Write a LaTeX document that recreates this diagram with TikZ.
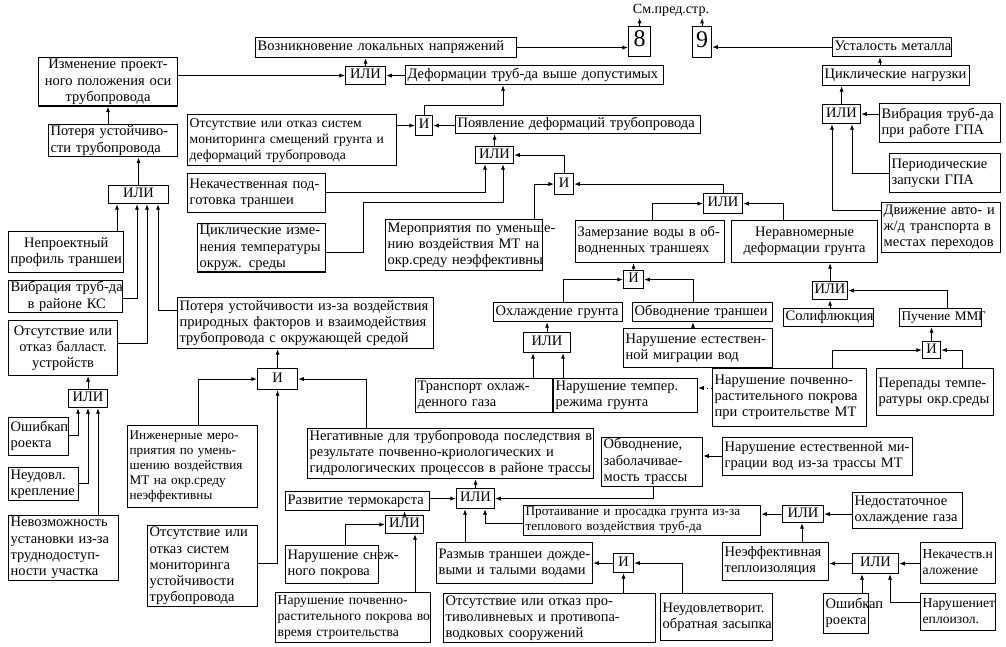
\documentclass[tikz,border=0pt]{standalone}
\usepackage{fontspec}
\setmainfont{Liberation Serif}
\usetikzlibrary{arrows.meta}
\tikzset{
  box/.style={draw, line width=0.8pt, inner xsep=1.5pt, inner ysep=0pt, font=\fontsize{10.3}{11.5}\selectfont},
  gate/.style={align=center},
  big/.style={align=center, font=\fontsize{17}{18}\selectfont},
  small/.style={font=\fontsize{9.4}{10.5}\selectfont},
  tight/.style={font=\fontsize{9.7}{11.5}\selectfont},
  arr/.style={line width=0.7pt, -{Latex[length=4pt,width=3pt]}},
  dots/.style={arr, dotted},
}
% box from corner (x1,y1) to corner (x2,y2), in pixels of the picture
\newcommand\bx[8][]{%
  \pgfmathsetmacro\bxw{(#5-#3)*0.7113-3}%
  \pgfmathsetmacro\bxh{(#6-#4)*0.7113}%
  \node[box,align=left,#1,anchor=north west,text width=\bxw pt,minimum height=\bxh pt]
    (#2) at (#3,#4) {\begin{tabular}{@{}#7@{}}#8\end{tabular}};}
\newcommand\jl[1]{\makebox[\bxw pt][s]{#1}}
\begin{document}
\begin{tikzpicture}[x=0.25mm,y=-0.25mm]
  %%%%% FRAME %%%%%
  \useasboundingbox (0,0) rectangle (1006,647);

  %%%%% TOP ROW %%%%%
  \node[inner sep=1pt,font=\fontsize{10}{12}\selectfont] (smpred) at (671,10) {См.пред.стр.};
  \bx[big]{b8}{628}{26}{650}{56}{c}{8}
  \bx[big]{b9}{692}{26}{711}{57}{c}{9}
  \bx{vozn}{255}{37}{516}{57}{l}{Возникновение локальных напряжений}
  \bx{ustal}{832}{37}{951}{56}{l}{Усталость металла}
  \bx[align=center]{izm}{38}{57}{177}{105}{c}{Изменение проект-\\ного положения оси\\трубопровода}
  \bx[gate]{gOr1}{345}{66}{385}{84}{c}{ИЛИ}
  \bx{deform}{405}{65}{663}{84}{l}{Деформации труб-да выше допустимых}
  \bx{ciklN}{822}{65}{969}{85}{l}{Циклические нагрузки}
  \bx[gate]{gOr5}{822}{104}{860}{123}{c}{ИЛИ}
  \bx{vibrGPA}{879}{103}{1000}{142}{l}{Вибрация труб-да\\при работе ГПА}
  \bx[tight]{otsMon}{187}{114}{396}{165}{l}{Отсутствие или отказ систем\\мониторинга смещений грунта и\\деформаций трубопровода}
  \bx[gate]{gAnd1}{415}{115}{432}{135}{c}{И}
  \bx{poyav}{455}{115}{700}{133}{l}{Появление деформаций трубопровода}
  \bx{poter}{48}{124}{177}{155}{l}{Потеря устойчиво-\\сти трубопровода}
  \bx[gate]{gOr2}{475}{146}{513}{163}{c}{ИЛИ}
  \bx{period}{889}{153}{1000}{192}{l}{Периодические\\запуски ГПА}
  \bx{nekach}{187}{173}{325}{212}{l}{Некачественная под-\\готовка траншеи}
  \bx[gate]{gAnd2}{554}{173}{573}{194}{c}{И}
  \bx[gate]{gOrL}{108}{185}{168}{203}{c}{ИЛИ}
  \bx[gate]{gOr3}{703}{193}{742}{213}{c}{ИЛИ}
  \bx{dvizh}{881}{202}{1000}{252}{l}{Движение авто- и\\ж/д транспорта в\\местах переходов}

  %%%%% MIDDLE %%%%%
  \bx{cikl}{197}{223}{325}{268}{l}{Циклические изме-\\нения температуры\\окруж. среды}
  \bx[align=center]{neproekt}{8}{231}{123}{272}{c}{Непроектный\\профиль траншеи}
  \bx{merop}{385}{219}{542}{270}{l}{Мероприятия по уменьше-\\нию воздействия МТ на\\окр.среду неэффективны}
  \bx{zamerz}{575}{220}{724}{262}{l}{Замерзание воды в об-\\водненных траншеях}
  \bx[align=center]{nerav}{731}{220}{877}{262}{c}{Неравномерные\\деформации грунта}
  \bx[gate]{gAnd3}{623}{270}{643}{288}{c}{И}
  \bx[align=center]{vibrKS}{8}{280}{122}{312}{c}{Вибрация труб-да\\в районе КС}
  \bx[gate]{gOr6}{812}{281}{847}{299}{c}{ИЛИ}
  \bx{poterPr}{177}{297}{433}{348}{l}{\jl{Потеря устойчивости из-за воздействия}\\\jl{природных факторов и взаимодействия}\\трубопровода с окружающей средой}
  \bx{ohl}{493}{302}{622}{321}{l}{Охлаждение грунта}
  \bx{obvTr}{632}{302}{772}{321}{l}{Обводнение траншеи}
  \bx{solif}{783}{308}{873}{326}{l}{Солифлюкция}
  \bx[small]{puch}{899}{308}{981}{326}{l}{Пучение ММГ}
  \bx[align=center]{otsBal}{8}{320}{117}{375}{c}{Отсутствие или\\отказ балласт.\\устройств}
  \bx{narEst}{623}{328}{772}{367}{l}{Нарушение естествен-\\ной миграции вод}
  \bx[gate]{gOr4}{523}{332}{570}{352}{c}{ИЛИ}
  \bx[gate]{gAnd4}{922}{341}{940}{358}{c}{И}
  \bx[gate]{gAnd5}{257}{368}{297}{389}{c}{И}
  \bx{transp}{415}{378}{552}{412}{l}{Транспорт охлаж-\\денного газа}
  \bx{narTemp}{553}{378}{697}{412}{l}{Нарушение темпер.\\режима грунта}
  \bx{narPochv}{712}{368}{866}{426}{l}{Нарушение почвенно-\\растительного покрова\\при строительстве МТ}
  \bx{perep}{876}{368}{993}{415}{l}{Перепады темпе-\\ратуры окр.среды}
  \bx[gate]{gOr7L}{68}{389}{107}{407}{c}{ИЛИ}

  %%%%% BOTTOM %%%%%
  \bx{oshib1}{8}{417}{68}{455}{l}{Ошибкап\\роекта}
  \bx[small]{inzh}{127}{425}{257}{507}{l}{Инженерные меро-\\приятия по умень-\\шению воздействия\\МТ на окр.среду\\неэффективны}
  \bx{negat}{307}{428}{593}{478}{l}{Негативные для трубопровода последствия в\\результате почвенно-криологических и\\гидрологических процессов в районе трассы}
  \bx{obvZab}{601}{437}{702}{483}{l}{Обводнение,\\заболачивае-\\мость трассы}
  \bx{narEstMT}{722}{437}{912}{475}{l}{Нарушение естественной ми-\\грации вод из-за трассы МТ}
  \bx{neud}{8}{467}{78}{500}{l}{Неудовл.\\крепление}
  \bx{razv}{285}{491}{429}{510}{l}{Развитие термокарста}
  \bx[gate]{gOr7}{456}{488}{494}{508}{c}{ИЛИ}
  \bx{nedost}{852}{492}{962}{528}{l}{Недостаточное\\охлаждение газа}
  \bx[small]{protai}{523}{505}{760}{532}{l}{Протаивание и просадка грунта из-за\\теплового воздействия труб-да}
  \bx[gate]{gOr9}{782}{505}{823}{522}{c}{ИЛИ}
  \bx[gate]{gOr8}{385}{515}{423}{533}{c}{ИЛИ}
  \bx{nevozm}{8}{515}{118}{573}{l}{Невозможность\\установки из-за\\труднодоступ-\\ности участка}
  \bx{otsUst}{147}{525}{257}{602}{l}{Отсутствие или\\отказ систем\\мониторинга\\устойчивости\\трубопровода}
  \bx{snezh}{285}{545}{378}{583}{l}{Нарушение снеж-\\ного покрова}
  \bx{razmyv}{436}{542}{592}{583}{l}{Размыв траншеи дожде-\\выми и талыми водами}
  \bx{neefTepl}{722}{542}{828}{580}{l}{Неэффективная\\теплоизоляция}
  \bx[tight]{nekachNal}{920}{542}{995}{583}{l}{Некачеств.н\\аложение}
  \bx[gate]{gAnd6}{613}{553}{633}{572}{c}{И}
  \bx[gate]{gOr10}{852}{553}{898}{573}{c}{ИЛИ}
  \bx[tight]{pochvStr}{275}{592}{430}{642}{l}{Нарушение почвенно-\\растительного покрова во\\время строительства}
  \bx{otsProt}{443}{593}{655}{642}{l}{\jl{Отсутствие или отказ про-}\\\jl{тиволивневых и противопа-}\\водковых сооружений}
  \bx{neudObr}{660}{593}{772}{640}{l}{Неудовлетворит.\\обратная засыпка}
  \bx{oshib2}{823}{593}{868}{633}{l}{Ошибкап\\роекта}
  \bx[tight]{narTepl}{920}{593}{995}{630}{l}{Нарушениет\\еплоизол.}

  %%%%% ARROWS %%%%%
  \draw[arr] (b8.north) -- (b8.north |- smpred.south);
  \draw[arr] (b9.north) -- (b9.north |- smpred.south);
  \draw[arr] (vozn) -- (b8.west |- vozn);
  \draw[arr] (ustal) -- (b9.east |- ustal);
  \draw[arr] (ciklN.north -| 880,0) -- (ustal.south -| 880,0);
  \draw[arr] (gOr5) -- (gOr5 |- ciklN.south);
  \draw[arr] (vibrGPA.west |- gOr5) -- (gOr5);
  \draw[arr] (period.west |- 0,173) -| (gOr5.south -| 852,0);
  \draw[arr] (dvizh.west |- 0,210) -| (gOr5.south -| 832,0);
  \draw[arr] (izm.east |- gOr1) -- (gOr1);
  \draw[arr] (gOr1) -- (gOr1 |- vozn.south);
  \draw[arr] (deform.west |- gOr1) -- (gOr1);
  \draw[arr] (poter.north -| 108,0) -- (izm.south -| 108,0);
  \draw[arr] (gOrL) -- (gOrL |- poter.south);
  \draw[arr] (neproekt.north -| 117,0) -- (gOrL.south -| 117,0);
  \draw[arr] (vibrKS.east |- 0,298) -| (gOrL.south -| 137,0);
  \draw[arr] (otsBal.east |- 0,343) -| (gOrL.south -| 147,0);
  \draw[arr] (poterPr.west |- 0,310) -| (gOrL.south -| 158,0);
  \draw[arr] (gOr7L) -- (gOr7L |- otsBal.south);
  \draw[arr] (oshib1.east |- 0,435) -| (gOr7L.south -| 78,0);
  \draw[arr] (neud.east |- 0,483) -| (gOr7L.south -| 88,0);
  \draw[arr] (nevozm.north -| 98,0) -- (gOr7L.south -| 98,0);
  \draw[arr] (otsMon.east |- gAnd1) -- (gAnd1);
  \draw[arr] (poyav.west |- gAnd1) -- (gAnd1);
  \draw[arr] (gAnd1.north) |- (503,105) -- (deform.south -| 503,0);
  \draw[arr] (gOr2) -- (gOr2 |- poyav.south);
  \draw[arr] (nekach.east |- 0,192) -| (gOr2.south -| 485,0);
  \draw[arr] (cikl.east |- 0,252) -| (363,202) -| (gOr2.south -| 503,0);
  \draw[arr] (gAnd2.north) |- (gOr2.east);
  \draw[arr] (merop.north -| 534,0) |- (gAnd2.west);
  \draw[arr] (gOr3.north) |- (gAnd2.east);
  \draw[arr] (zamerz.north -| 652,0) |- (gOr3.west);
  \draw[arr] (nerav.north -| 783,0) |- (gOr3.east);
  \draw[arr] (gAnd3) -- (gAnd3 |- zamerz.south);
  \draw[arr] (ohl.north -| 563,0) |- (gAnd3.west);
  \draw[arr] (obvTr.north -| 693,0) |- (gAnd3.east);
  \draw[arr] (narEst.north -| 693,0) -- (obvTr.south -| 693,0);
  \draw[arr] (gOr4) -- (gOr4 |- ohl.south);
  \draw[arr] (transp.north -| 533,0) -- (gOr4.south -| 533,0);
  \draw[arr] (narTemp.north -| 563,0) -- (gOr4.south -| 563,0);
  \draw[dots] (narPochv.west |- 0,388) -- (narTemp.east |- 0,388);
  \draw[arr] (gOr6) -- (gOr6 |- nerav.south);
  \draw[arr] (gOr6.south |- solif.north) -- (gOr6.south);
  \draw[arr] (puch.north -| 947,0) |- (gOr6.east);
  \draw[arr] (gAnd4) -- (gAnd4 |- puch.south);
  \draw[arr] (narPochv.north -| 832,0) |- (gAnd4.west);
  \draw[arr] (perep.north -| 962,0) |- (gAnd4.east);
  \draw[arr] (gAnd5) -- (gAnd5 |- poterPr.south);
  \draw[arr] (inzh.north -| 198,0) |- (gAnd5.west);
  \draw[arr] (otsUst.east |- 0,563) -| (gAnd5.south);
  \draw[arr] (negat.north -| 366,0) |- (gAnd5.east);
  \draw[arr] (gOr7) -- (gOr7 |- negat.south);
  \draw[arr] (razv.east |- gOr7) -- (gOr7);
  \draw[arr] (obvZab.south -| 653,0) |- (gOr7.east);
  \draw[arr] (narEstMT.west |- 0,456) -- (obvZab.east |- 0,456);
  \draw[arr] (gOr8) -- (gOr8 |- razv.south);
  \draw[arr] (snezh.north -| 345,0) |- (gOr8.west);
  \draw[arr] (pochvStr.north -| 415,0) -- (gOr8.south -| 415,0);
  \draw[arr] (razmyv.north -| 465,0) -- (gOr7.south -| 465,0);
  \draw[arr] (protai.west |- 0,523) -| (gOr7.south -| 485,0);
  \draw[arr] (gOr9) -- (protai.east |- gOr9);
  \draw[arr] (nedost.west |- gOr9) -- (gOr9);
  \draw[arr] (neefTepl.north -| 802,0) -- (gOr9.south -| 802,0);
  \draw[arr] (gOr10) -- (neefTepl.east |- gOr10);
  \draw[arr] (nekachNal.west |- gOr10) -- (gOr10);
  \draw[arr] (oshib2.north -| 862,0) -- (gOr10.south -| 862,0);
  \draw[arr] (narTepl.west |- 0,602) -| (gOr10.south -| 890,0);
  \draw[arr] (gAnd6) -- (razmyv.east |- gAnd6);
  \draw[arr] (gAnd6.south |- otsProt.north) -- (gAnd6.south);
  \draw[arr] (neudObr.north -| 682,0) |- (gAnd6.east);
\end{tikzpicture}
\end{document}
